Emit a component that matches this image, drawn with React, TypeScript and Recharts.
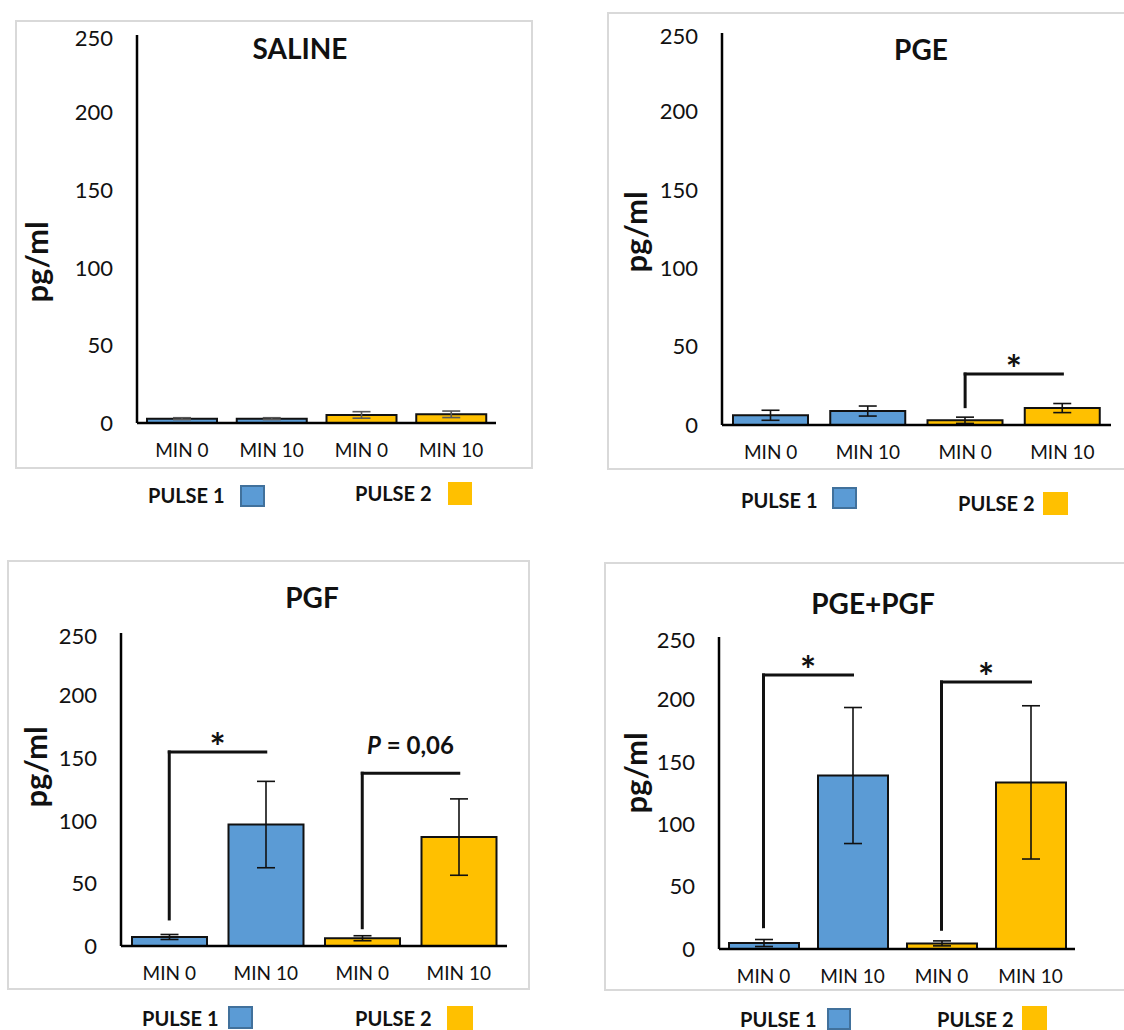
import { BarChart, Bar, XAxis, YAxis, Cell, ErrorBar, ReferenceLine } from 'recharts';

// categories along the x axis (pulse / minute)
const categories = ['p1m0', 'p1m10', 'p2m0', 'p2m10'];
const tickLabels = ['MIN 0', 'MIN 10', 'MIN 0', 'MIN 10'];
const pulseOfCategory = [1, 1, 2, 2];
const yTicks = [0, 50, 100, 150, 200, 250];

// mean pg/ml and error per category
const salineMeans = [2.8, 2.8, 5.2, 5.6];
const salineErrs = [0.6, 0.6, 2.1, 2.1];
const pgeMeans = [6.2, 8.9, 3.0, 10.8];
const pgeErrs = [3.2, 3.2, 2.0, 2.9];
const pgfMeans = [7.2, 97, 6.2, 87];
const pgfErrs = [2.0, 34.5, 2.0, 30.5];
const comboMeans = [4.8, 139, 4.5, 133.5];
const comboErrs = [2.8, 54.5, 2.0, 61.4];

// significance brackets: from/to category, top and bottom in pg/ml
const pgeBrackets = [{ from: 'p2m0', to: 'p2m10', top: 32.5, bottom: 11.7, label: '*' }];
const pgfBrackets = [
  { from: 'p1m0', to: 'p1m10', top: 155, bottom: 21.6, label: '*' },
  { from: 'p2m0', to: 'p2m10', top: 138, bottom: 14.6, label: 'P = 0,06' },
];
const comboBrackets = [
  { from: 'p1m0', to: 'p1m10', top: 219.6, bottom: 17.9, label: '*' },
  { from: 'p2m0', to: 'p2m10', top: 214, bottom: 15.8, label: '*' },
];

const BLUE = '#5B9BD5';
const YELLOW = '#FFC000';
const FONT = 'Lato, "Open Sans", sans-serif';

type Bracket = { from: string; to: string; top: number; bottom: number; label: string };

const BracketLabel = (props: any) => {
  const { viewBox, text } = props;
  if (!viewBox) return null;
  const cx = viewBox.x + viewBox.width / 2;
  const y = viewBox.y;
  if (text === '*') {
    return (
      <text x={cx} y={y + 9} textAnchor="middle" fontFamily={FONT} fontWeight={700} fontSize={38} fill="#111">
        *
      </text>
    );
  }
  const parts = text.split(' ');
  return (
    <text x={cx} y={y - 19} textAnchor="middle" fontFamily={FONT} fontWeight={700} fontSize={24} fill="#111">
      <tspan fontStyle="italic">{parts[0]}</tspan>
      <tspan>{' ' + parts.slice(1).join(' ')}</tspan>
    </text>
  );
};

const Panel = ({ title, means, errs, brackets, lay, errColor }: any) => {
  const data = categories.map((c, i) => ({ cat: c, label: tickLabels[i], value: means[i], err: errs[i] }));
  const yW = 80;
  const mTop = 10;
  const xH = 50;
  const mRight = 10;
  const { x0, x1, yTop, yZero } = lay.plot;
  const w = x1 - x0 + yW + mRight;
  const h = yZero - yTop + mTop + xH;

  return (
    <>
      <div
        style={{
          position: 'absolute',
          left: lay.box.l,
          top: lay.box.t,
          width: lay.box.r - lay.box.l,
          height: lay.box.b - lay.box.t,
          border: '2px solid #D9D9D9',
          boxSizing: 'border-box',
        }}
      />
      <div style={{ position: 'absolute', left: x0 - yW, top: yTop - mTop }}>
        <BarChart width={w} height={h} data={data} margin={{ top: mTop, right: mRight, left: 0, bottom: 0 }}>
          <XAxis
            dataKey="cat"
            tickFormatter={(v: string) => tickLabels[categories.indexOf(v)]}
            height={xH}
            tickLine={false}
            tickSize={0}
            tickMargin={21}
            axisLine={{ stroke: '#000', strokeWidth: 2.5 }}
            tick={{ fill: '#111', fontSize: 19, fontFamily: FONT }}
            interval={0}
          />
          <YAxis
            domain={[0, 250]}
            ticks={yTicks}
            width={yW}
            tickLine={false}
            tickSize={0}
            tickMargin={24}
            axisLine={{ stroke: '#000', strokeWidth: 2.5 }}
            tick={{ fill: '#111', fontSize: 22, fontFamily: FONT }}
            allowDataOverflow
          />
          <Bar dataKey="value" barSize={lay.barSize} stroke="#111" strokeWidth={2} isAnimationActive={false}>
            {data.map((d, i) => (
              <Cell key={d.cat} fill={pulseOfCategory[i] === 1 ? BLUE : YELLOW} />
            ))}
            <ErrorBar dataKey="err" width={9} stroke={errColor} strokeWidth={1.6} direction="y" isAnimationActive={false} />
          </Bar>
          {brackets.map((b: Bracket, i: number) => (
            <ReferenceLine
              key={'v' + i}
              segment={[{ x: b.from, y: b.bottom }, { x: b.from, y: b.top }]}
              stroke="#111"
              strokeWidth={3}
              strokeLinecap="square"
            />
          ))}
          {brackets.map((b: Bracket, i: number) => (
            <ReferenceLine
              key={'h' + i}
              segment={[{ x: b.from, y: b.top }, { x: b.to, y: b.top }]}
              stroke="#111"
              strokeWidth={3}
              strokeLinecap="square"
              label={(p: any) => <BracketLabel viewBox={p.viewBox} text={b.label} />}
            />
          ))}
        </BarChart>
      </div>
      <div
        style={{
          position: 'absolute',
          left: lay.title.x,
          top: lay.title.y,
          transform: 'translate(-50%, -50%)',
          fontFamily: FONT,
          fontWeight: 700,
          fontSize: 28,
          color: '#111',
          whiteSpace: 'nowrap',
        }}
      >
        {title}
      </div>
      <div
        style={{
          position: 'absolute',
          left: lay.ylabel.x,
          top: lay.ylabel.y,
          transform: 'translate(-50%, -50%) rotate(-90deg)',
          fontFamily: FONT,
          fontWeight: 700,
          fontSize: 31,
          color: '#111',
          whiteSpace: 'nowrap',
        }}
      >
        pg/ml
      </div>
      {lay.legend.map((lg: any, i: number) => (
        <div key={i}>
          <div
            style={{
              position: 'absolute',
              left: lg.tx,
              top: lg.ty - 10,
              height: 20,
              lineHeight: '20px',
              fontFamily: FONT,
              fontWeight: 700,
              fontSize: 20,
              color: '#111',
              whiteSpace: 'nowrap',
            }}
          >
            {i === 0 ? 'PULSE 1' : 'PULSE 2'}
          </div>
          <div
            style={{
              position: 'absolute',
              left: lg.sx,
              top: lg.sy,
              width: lg.sw,
              height: lg.sh,
              background: i === 0 ? BLUE : YELLOW,
              border: i === 0 ? '2px solid #41719C' : 'none',
              boxSizing: 'border-box',
            }}
          />
        </div>
      ))}
    </>
  );
};

const layouts = {
  saline: {
    box: { l: 15, t: 20, r: 533, b: 469 },
    plot: { x0: 137, x1: 496, yTop: 35, yZero: 423 },
    barSize: 70,
    title: { x: 300, y: 48 },
    ylabel: { x: 36, y: 262 },
    legend: [
      { tx: 148, ty: 495, sx: 240, sy: 485, sw: 25, sh: 22 },
      { tx: 355, ty: 493, sx: 448, sy: 482, sw: 24, sh: 23 },
    ],
  },
  pge: {
    box: { l: 607, t: 12, r: 1134, b: 470 },
    plot: { x0: 722, x1: 1111, yTop: 33, yZero: 425 },
    barSize: 75,
    title: { x: 921, y: 49 },
    ylabel: { x: 635, y: 232 },
    legend: [
      { tx: 741, ty: 500, sx: 832, sy: 487, sw: 25, sh: 22 },
      { tx: 958, ty: 503, sx: 1043, sy: 492, sw: 25, sh: 23 },
    ],
  },
  pgf: {
    box: { l: 7, t: 560, r: 530, b: 990 },
    plot: { x0: 121, x1: 507, yTop: 633, yZero: 946 },
    barSize: 75,
    title: { x: 312, y: 597 },
    ylabel: { x: 35, y: 767 },
    legend: [
      { tx: 142, ty: 1018, sx: 228, sy: 1006, sw: 25, sh: 23 },
      { tx: 355, ty: 1018, sx: 447, sy: 1006, sw: 26, sh: 24 },
    ],
  },
  combo: {
    box: { l: 604, t: 562, r: 1134, b: 991 },
    plot: { x0: 719, x1: 1075, yTop: 637, yZero: 949 },
    barSize: 70,
    title: { x: 873, y: 603 },
    ylabel: { x: 635, y: 773 },
    legend: [
      { tx: 740, ty: 1019, sx: 827, sy: 1008, sw: 24, sh: 22 },
      { tx: 937, ty: 1019, sx: 1022, sy: 1006, sw: 25, sh: 24 },
    ],
  },
};

export default function App() {
  return (
    <div style={{ position: 'absolute', left: 0, top: 0, width: 1124, height: 1030, background: '#fff', overflow: 'hidden' }}>
      <Panel title="SALINE" means={salineMeans} errs={salineErrs} brackets={[]} lay={layouts.saline} errColor="#595959" />
      <Panel title="PGE" means={pgeMeans} errs={pgeErrs} brackets={pgeBrackets} lay={layouts.pge} errColor="#111" />
      <Panel title="PGF" means={pgfMeans} errs={pgfErrs} brackets={pgfBrackets} lay={layouts.pgf} errColor="#111" />
      <Panel title="PGE+PGF" means={comboMeans} errs={comboErrs} brackets={comboBrackets} lay={layouts.combo} errColor="#111" />
    </div>
  );
}
